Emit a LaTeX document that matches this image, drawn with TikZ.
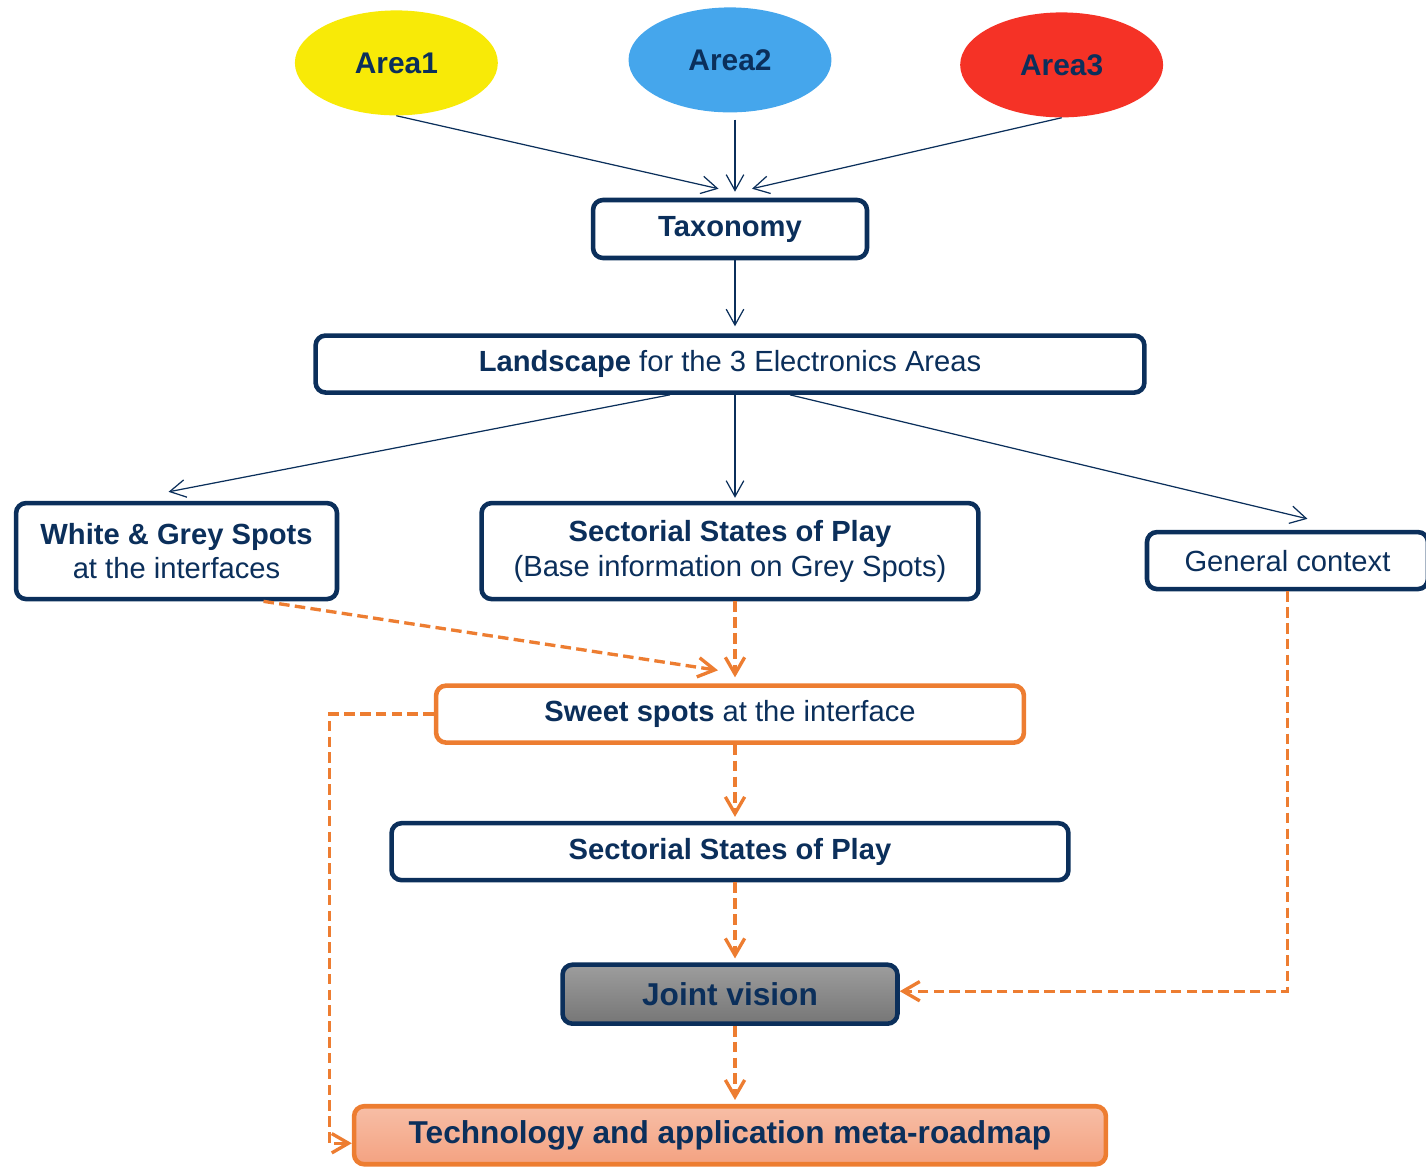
\documentclass[tikz,border=0pt]{standalone}
\usepackage{fontspec}
\setmainfont{Liberation Sans}
\usepackage{xcolor}
\usetikzlibrary{positioning,shapes.geometric,arrows.meta}
\definecolor{navy}{HTML}{0B2F5B}
\definecolor{orng}{HTML}{ED7D31}
\definecolor{ayellow}{HTML}{F8EA07}
\definecolor{ablue}{HTML}{45A6EC}
\definecolor{ared}{HTML}{F53226}
\definecolor{jvtop}{HTML}{9D9D9D}
\definecolor{jvbot}{HTML}{767676}
\definecolor{rmtop}{HTML}{F7BEA6}
\definecolor{rmbot}{HTML}{F4A281}

\begin{document}
\begin{tikzpicture}[x=0.02cm, y=-0.02cm,
  box/.style={rectangle, draw=navy, line width=2.6pt, rounded corners=0.2cm, fill=white,
              text=navy, inner sep=0pt, align=center, minimum height=1.14cm,
              font=\fontsize{16.6}{19.8}\selectfont},
  obox/.style={box, draw=orng},
  area/.style={ellipse, minimum width=4.06cm, minimum height=2.1cm, inner sep=0pt,
               text=navy, font=\fontsize{17}{20}\selectfont\bfseries},
  arr/.style={-{Straight Barb[length=9pt,width=10pt]}, navy, line width=0.7pt},
  oarr/.style={-{Straight Barb[length=9.5pt,width=11pt]}, orng, line width=1.9pt,
               dash pattern=on 6pt off 3pt}
]
\useasboundingbox (0,0) rectangle (1426,1170);

\node[box, minimum width=5.48cm, minimum height=1.16cm] (tax) at (730,229) {\textbf{Taxonomy}};

\node[area, fill=ablue, above=1.7cm of tax] (area2) {Area2};
\node[area, fill=ayellow, left=2.6cm of area2, yshift=-0.06cm] (area1) {Area1};
\node[area, fill=ared, right=2.56cm of area2, yshift=-0.1cm] (area3) {Area3};

\node[box, minimum width=16.58cm, below=1.46cm of tax] (land)
  {\textbf{Landscape} for the 3 Electronics Areas};
\node[box, minimum width=9.94cm, minimum height=1.92cm, below=2.12cm of land] (sect)
  {\textbf{Sectorial States of Play}\\(Base information on Grey Spots)};
\node[box, minimum width=6.42cm, minimum height=1.92cm, left=2.8cm of sect] (white)
  {\textbf{White \& Grey Spots}\\at the interfaces};
\node[box, minimum width=5.62cm, right=3.28cm of sect, yshift=-0.19cm] (gen) {General context};

\node[obox, minimum width=11.76cm, below=1.64cm of sect] (sweet)
  {\textbf{Sweet spots} at the interface};
\node[box, minimum width=13.54cm, below=1.52cm of sweet] (sosp)
  {\textbf{Sectorial States of Play}};
\node[box, minimum width=6.7cm, minimum height=1.18cm, top color=jvtop, bottom color=jvbot,
      font=\fontsize{18}{21}\selectfont\bfseries, below=1.6cm of sosp] (joint) {Joint vision};
\node[obox, minimum width=15.04cm, minimum height=1.16cm, top color=rmtop, bottom color=rmbot,
      font=\fontsize{18}{21}\selectfont\bfseries, below=1.56cm of joint] (tech)
  {Technology and application meta-roadmap};

% areas into the taxonomy
\draw[arr] (area1.south) -- ([xshift=-0.23cm,yshift=0.18cm]tax.north);
\draw[arr] ([xshift=0.1cm,yshift=-0.14cm]area2.south) -- ([xshift=0.1cm,yshift=0.12cm]tax.north);
\draw[arr] (area3.south) -- ([xshift=0.44cm,yshift=0.18cm]tax.north);
\draw[arr] ([xshift=0.1cm]tax.south) -- ([xshift=0.1cm,yshift=0.14cm]land.north);

% landscape split
\draw[arr] ([xshift=-1.2cm]land.south) -- ([xshift=-0.16cm,yshift=0.18cm]white.north);
\draw[arr] ([xshift=0.1cm]land.south) -- ([xshift=0.1cm,yshift=0.06cm]sect.north);
\draw[arr] ([xshift=1.2cm]land.south) -- ([xshift=0.4cm,yshift=0.22cm]gen.north);

% dashed flow
\draw[oarr] ([xshift=1.74cm]white.south) -- ([xshift=-0.24cm,yshift=0.26cm]sweet.north);
\draw[oarr] ([xshift=0.1cm]sect.south) -- ([xshift=0.1cm,yshift=0.12cm]sweet.north);
\draw[oarr] ([xshift=0.1cm]sweet.south) -- ([xshift=0.1cm,yshift=0.08cm]sosp.north);
\draw[oarr] ([xshift=0.1cm]sosp.south) -- ([xshift=0.1cm,yshift=0.08cm]joint.north);
\draw[oarr] ([xshift=0.1cm]joint.south) -- ([xshift=0.1cm,yshift=0.08cm]tech.north);
\draw[oarr] (gen.south) |- ([yshift=0.06cm]joint.east);
\draw[oarr] (sweet.west) -- ++(-2.08cm,0) |- ([yshift=-0.16cm]tech.west);

\end{tikzpicture}
\end{document}
